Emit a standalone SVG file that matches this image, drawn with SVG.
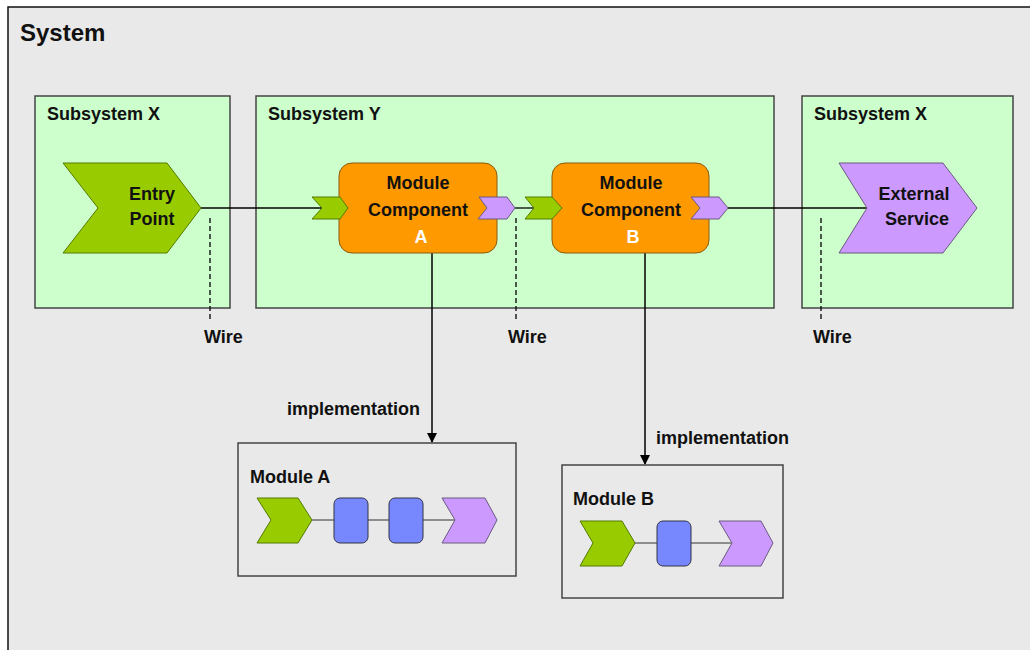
<svg xmlns="http://www.w3.org/2000/svg" width="1030" height="650" viewBox="0 0 1030 650">
<defs>
<style>
text{font-family:"Liberation Sans",Arial,sans-serif;fill:#111;font-size:19px}
.title{font-size:24px;font-weight:bold}
.lbl{font-weight:bold;font-size:18px}
.c{text-anchor:middle}
.w{fill:#fff}
.sub{fill:#ccffcc;stroke:#444;stroke-width:1.5}
.mod{fill:#e9e9e9;stroke:#444;stroke-width:1.5}
.green{fill:#99cc00;stroke:#557a00;stroke-width:1}
.purple{fill:#cc99ff;stroke:#6a5a80;stroke-width:1}
.orange{fill:#ff9900;stroke:#8a5a10;stroke-width:1}
.blue{fill:#7788ff;stroke:#334;stroke-width:1}
.wire{stroke:#000;stroke-width:1.3;fill:none}
.thin{stroke:#333;stroke-width:1;fill:none}
.dash{stroke:#111;stroke-width:1.4;stroke-dasharray:5 3;fill:none}
.impl{stroke:#000;stroke-width:1.5;fill:none}
</style>
<marker id="ah" markerWidth="10" markerHeight="10" refX="9" refY="5" orient="auto" markerUnits="userSpaceOnUse">
<path d="M0,0 L10,5 L0,10 Z" fill="#000"/>
</marker>
</defs>
<rect x="0" y="0" width="1030" height="650" fill="#ffffff"/>
<g id="system">
<rect x="8" y="7" width="1040" height="660" fill="#e9e9e9" stroke="#111" stroke-width="1.5"/>
<text x="20" y="41" class="title">System</text>
</g>
<g id="subsystem-x-left">
<rect x="35" y="96" width="195" height="212" class="sub"/>
<text x="47" y="120" class="lbl">Subsystem X</text>
</g>
<g id="subsystem-y">
<rect x="256" y="96" width="518" height="212" class="sub"/>
<text x="268" y="120" class="lbl">Subsystem Y</text>
</g>
<g id="subsystem-x-right">
<rect x="802" y="96" width="211" height="212" class="sub"/>
<text x="814" y="120" class="lbl">Subsystem X</text>
</g>
<g id="connectors">
<line x1="201" y1="208" x2="322" y2="208" class="wire"/>
<line x1="515" y1="208" x2="534" y2="208" class="wire"/>
<line x1="728" y1="208" x2="867" y2="208" class="wire"/>
<line x1="210" y1="218" x2="210" y2="320" class="dash"/>
<line x1="516" y1="218" x2="516" y2="320" class="dash"/>
<line x1="821" y1="218" x2="821" y2="320" class="dash"/>
<line x1="432" y1="226" x2="432" y2="442" class="impl" marker-end="url(#ah)"/>
<line x1="645" y1="226" x2="645" y2="464" class="impl" marker-end="url(#ah)"/>
<text x="204" y="343" class="lbl">Wire</text>
<text x="508" y="343" class="lbl">Wire</text>
<text x="813" y="343" class="lbl">Wire</text>
<text x="287" y="415" class="lbl">implementation</text>
<text x="656" y="444" class="lbl">implementation</text>
</g>
<g id="entry-point">
<polygon points="63,163 167,163 201,208 167,253 63,253 98,208" class="green"/>
<text x="152" y="200" class="lbl c">Entry</text>
<text x="152" y="225" class="lbl c">Point</text>
</g>
<g id="module-component-a">
<rect x="339" y="163" width="158" height="90" rx="13" class="orange"/>
<polygon points="312,197 340,197 348,208 340,219 312,219 322,208" class="green"/>
<polygon points="479,197 507,197 515,208 507,219 478,219 487,208" class="purple"/>
<text x="418" y="189" class="lbl c">Module</text>
<text x="418" y="216" class="lbl c">Component</text>
<text x="421" y="243" class="lbl c w">A</text>
</g>
<g id="module-component-b">
<rect x="552" y="163" width="157" height="90" rx="13" class="orange"/>
<polygon points="525,197 552,197 562,208 552,219 525,219 534,208" class="green"/>
<polygon points="691,197 719,197 728,208 719,219 691,219 700,208" class="purple"/>
<text x="631" y="189" class="lbl c">Module</text>
<text x="631" y="216" class="lbl c">Component</text>
<text x="633" y="243" class="lbl c w">B</text>
</g>
<g id="external-service">
<polygon points="839,163 943,163 977,208 943,253 839,253 867,208" class="purple"/>
<text x="914" y="200" class="lbl c">External</text>
<text x="917" y="225" class="lbl c">Service</text>
</g>
<g id="module-a">
<rect x="238" y="443" width="278" height="133" class="mod"/>
<text x="250" y="483" class="lbl">Module A</text>
<line x1="312" y1="520" x2="334" y2="520" class="thin"/>
<line x1="368" y1="520" x2="389" y2="520" class="thin"/>
<line x1="423" y1="520" x2="455" y2="520" class="thin"/>
<polygon points="257,498 298,498 312,520 298,543 257,543 271,520" class="green"/>
<rect x="334" y="498" width="34" height="45" rx="6" class="blue"/>
<rect x="389" y="498" width="34" height="45" rx="6" class="blue"/>
<polygon points="442,498 485,498 497,520 485,543 442,543 455,520" class="purple"/>
</g>
<g id="module-b">
<rect x="562" y="465" width="221" height="133" class="mod"/>
<text x="573" y="505" class="lbl">Module B</text>
<line x1="635" y1="543" x2="657" y2="543" class="thin"/>
<line x1="691" y1="543" x2="732" y2="543" class="thin"/>
<polygon points="580,521 622,521 635,543 622,566 580,566 593,543" class="green"/>
<rect x="657" y="521" width="34" height="45" rx="6" class="blue"/>
<polygon points="719,521 761,521 773,543 761,566 719,566 732,543" class="purple"/>
</g>
</svg>
